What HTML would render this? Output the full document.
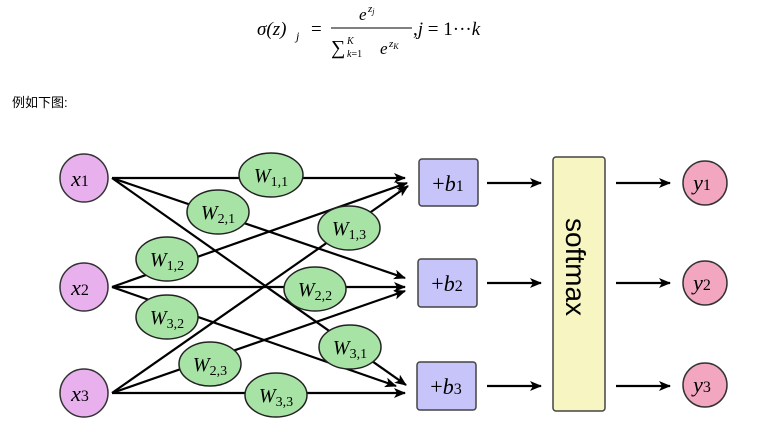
<!DOCTYPE html>
<html><head><meta charset="utf-8"><style>
html,body{margin:0;padding:0;background:#fff;width:760px;height:427px;overflow:hidden}
svg{display:block}
.m{font-family:"Liberation Serif",serif;font-style:italic}
.r{font-family:"Liberation Serif",serif}
</style></head><body>
<svg width="760" height="427" viewBox="0 0 760 427" xmlns="http://www.w3.org/2000/svg">
<defs>
<marker id="a" viewBox="0 0 12 10" refX="11" refY="5" markerWidth="12" markerHeight="10" markerUnits="userSpaceOnUse" orient="auto">
<path d="M0,0 L12,5 L0,10 L3,5 Z" fill="#000"/></marker>
</defs>
<!-- formula -->
<text x="257" y="35" font-size="19" class="m">σ(z)</text>
<text x="296" y="40" font-size="12" class="m">j</text>
<text x="311" y="35" font-size="19" class="r">=</text>
<text x="359" y="20" font-size="17" class="m">e</text>
<text x="368" y="12" font-size="11" class="m">z<tspan font-size="8" dy="2">j</tspan></text>
<line x1="331" y1="28" x2="412" y2="28" stroke="#000" stroke-width="1"/>
<text x="331" y="54" font-size="20" class="r">∑</text>
<text x="347" y="44" font-size="10" class="m">K</text>
<text x="347" y="57" font-size="10" class="m">k<tspan class="r" font-style="normal">=1</tspan></text>
<text x="380" y="54" font-size="17" class="m">e</text>
<text x="389" y="47" font-size="11" class="m">z<tspan font-size="8" dy="2">K</tspan></text>
<text x="413" y="35" font-size="19" class="r">,<tspan class="m">j</tspan> = 1···<tspan class="m">k</tspan></text>
<text x="12" y="107" font-size="13" font-family="'Liberation Sans','Noto Sans CJK SC',sans-serif">例如下图:</text>

<g stroke="#000" stroke-width="2.2" fill="none" marker-end="url(#a)">
<line x1="112" y1="178" x2="405" y2="178"/>
<line x1="112" y1="178" x2="405" y2="278"/>
<line x1="112" y1="178" x2="406" y2="385"/>
<line x1="112" y1="287" x2="407" y2="183"/>
<line x1="112" y1="287" x2="405" y2="287"/>
<line x1="112" y1="287" x2="396" y2="386"/>
<line x1="112" y1="393" x2="408" y2="186"/>
<line x1="112" y1="393" x2="405" y2="291"/>
<line x1="112" y1="393" x2="405" y2="393"/>
<line x1="487" y1="183" x2="541" y2="183"/>
<line x1="487" y1="283" x2="541" y2="283"/>
<line x1="487" y1="386" x2="541" y2="386"/>
<line x1="616" y1="183" x2="670" y2="183"/>
<line x1="616" y1="283" x2="670" y2="283"/>
<line x1="616" y1="386" x2="670" y2="386"/>
</g>

<g fill="#e8b1ee" stroke="#333" stroke-width="1.5">
<circle cx="84" cy="178" r="24"/><circle cx="84" cy="287" r="24"/><circle cx="84" cy="393" r="24"/>
</g>
<g fill="#f2a6bf" stroke="#333" stroke-width="1.5">
<circle cx="705" cy="183" r="22"/><circle cx="705" cy="283" r="22"/><circle cx="705" cy="385" r="22"/>
</g>
<g fill="#a8e3a6" stroke="#222" stroke-width="1.5">
<ellipse cx="271" cy="175" rx="32" ry="22"/>
<ellipse cx="218" cy="212" rx="31" ry="22"/>
<ellipse cx="349" cy="228" rx="31" ry="22"/>
<ellipse cx="167" cy="259" rx="31" ry="22"/>
<ellipse cx="315" cy="289" rx="31" ry="22"/>
<ellipse cx="167" cy="317" rx="31" ry="22"/>
<ellipse cx="350" cy="347" rx="31" ry="22"/>
<ellipse cx="210" cy="364" rx="31" ry="22"/>
<ellipse cx="276" cy="395" rx="31" ry="22"/>
</g>
<g fill="#c6c4f8" stroke="#444" stroke-width="1.5">
<rect x="419" y="159" width="59" height="47" rx="3"/>
<rect x="418" y="259" width="59" height="48" rx="3"/>
<rect x="417" y="362" width="59" height="48" rx="3"/>
</g>
<rect x="553" y="157" width="52" height="254" rx="3" fill="#f7f5c2" stroke="#444" stroke-width="1.5"/>
<text transform="translate(566,218) rotate(90)" font-size="28" font-family="'Liberation Sans',sans-serif">softmax</text>

<g class="m" font-size="22" text-anchor="middle">
<text x="80" y="186">x<tspan class="r" font-style="normal" font-size="16">1</tspan></text>
<text x="80" y="295">x<tspan class="r" font-style="normal" font-size="16">2</tspan></text>
<text x="80" y="401">x<tspan class="r" font-style="normal" font-size="16">3</tspan></text>
<text x="702" y="190">y<tspan class="r" font-style="normal" font-size="16">1</tspan></text>
<text x="702" y="290">y<tspan class="r" font-style="normal" font-size="16">2</tspan></text>
<text x="702" y="392">y<tspan class="r" font-style="normal" font-size="16">3</tspan></text>
<text x="448" y="191"><tspan class="r" font-style="normal">+</tspan>b<tspan class="r" font-style="normal" font-size="16">1</tspan></text>
<text x="447" y="291"><tspan class="r" font-style="normal">+</tspan>b<tspan class="r" font-style="normal" font-size="16">2</tspan></text>
<text x="446" y="394"><tspan class="r" font-style="normal">+</tspan>b<tspan class="r" font-style="normal" font-size="16">3</tspan></text>
</g>
<g class="m" font-size="20" text-anchor="middle">
<text x="271" y="182">W<tspan class="r" font-style="normal" font-size="14" dy="4">1,1</tspan></text>
<text x="218" y="219">W<tspan class="r" font-style="normal" font-size="14" dy="4">2,1</tspan></text>
<text x="349" y="235">W<tspan class="r" font-style="normal" font-size="14" dy="4">1,3</tspan></text>
<text x="167" y="266">W<tspan class="r" font-style="normal" font-size="14" dy="4">1,2</tspan></text>
<text x="315" y="296">W<tspan class="r" font-style="normal" font-size="14" dy="4">2,2</tspan></text>
<text x="167" y="324">W<tspan class="r" font-style="normal" font-size="14" dy="4">3,2</tspan></text>
<text x="350" y="354">W<tspan class="r" font-style="normal" font-size="14" dy="4">3,1</tspan></text>
<text x="210" y="371">W<tspan class="r" font-style="normal" font-size="14" dy="4">2,3</tspan></text>
<text x="276" y="402">W<tspan class="r" font-style="normal" font-size="14" dy="4">3,3</tspan></text>
</g>
</svg>
</body></html>
